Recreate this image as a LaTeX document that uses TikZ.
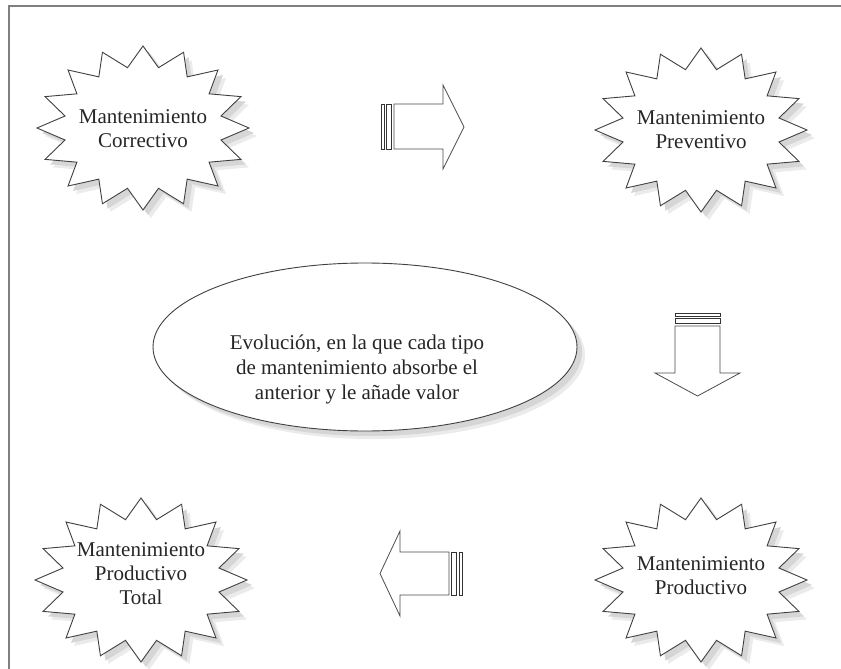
\documentclass[tikz,border=0pt]{standalone}
\usepackage{fontspec}
\setmainfont{Liberation Serif}
\newcommand\mystarshape[3][]{%
  \path[#1] ({#2+106},{#3})
    \foreach \k in {1,...,31}{ -- ({#2+106*(1-0.25*mod(\k,2))*cos(\k*11.25)},{#3+82*(1-0.25*mod(\k,2))*sin(\k*11.25)}) } -- cycle;}
\tikzset{
  starline/.style={draw=black!75, line width=0.9pt, fill=white, line join=miter},
  shadowfill/.style={fill=black!16, draw=none},
  shadowsoft/.style={fill=black!8, draw=none},
  lbl/.style={align=center, text=black!85, font=\fontsize{21}{24}\selectfont, inner sep=0pt},
  blockarrow/.style={draw=black!70, line width=0.8pt, fill=white, line join=miter},
  stripe/.style={draw=black!80, line width=1pt, fill=white},
  framestyle/.style={draw=black!50, line width=2pt}
}
\begin{document}
\begin{tikzpicture}[x=1pt,y=-1pt]
\useasboundingbox (0,0) rectangle (841,669);
\fill[white] (0,0) rectangle (841,669);
% frame (top and left)
\draw[framestyle] (841,6.5) -- (9,6.5) -- (9,669);
% stars: shadows then outlines
\foreach \cx/\cy in {143/128, 701/130, 141/580, 701/580}{
  \mystarshape[shadowsoft]{\cx+8}{\cy+8}
  \mystarshape[shadowfill]{\cx+5}{\cy+5}
  \mystarshape[starline]{\cx}{\cy}
}
\node[lbl] (corr) at (143,129) {Mantenimiento\\Correctivo};
\node[lbl] (prev) at (701,130) {Mantenimiento\\Preventivo};
\node[lbl] (prodt) at (141,574) {Mantenimiento\\Productivo\\Total};
\node[lbl] (prod) at (701,576) {Mantenimiento\\Productivo};
% ellipse
\fill[black!8] (373,355) ellipse [x radius=212, y radius=84];
\fill[black!16] (370,352) ellipse [x radius=212, y radius=84];
\draw[black!75, line width=0.9pt, fill=white] (365,347) ellipse [x radius=212, y radius=84];
\node[lbl, font=\fontsize{21}{25}\selectfont] (evo) at (357,369) {Evolución, en la que cada tipo\\de mantenimiento absorbe el\\anterior y le añade valor};
% right striped arrow
\draw[stripe] (381,104) rectangle (384,149);
\draw[stripe] (386.5,104) rectangle (391.5,149);
\draw[blockarrow] (394,104) -- (443,104) -- (443,85) -- (464,127) -- (443,169) -- (443,149) -- (394,149) -- cycle;
% down striped arrow
\draw[stripe] (675,313) rectangle (720,316);
\draw[stripe] (675,318.5) rectangle (720,323.5);
\draw[blockarrow] (675,326) -- (675,373) -- (655,373) -- (697.5,396) -- (740,373) -- (720,373) -- (720,326) -- cycle;
% left striped arrow
\draw[stripe] (462,552) rectangle (459,595);
\draw[stripe] (456.5,552) rectangle (451.5,595);
\draw[blockarrow] (449,552) -- (400,552) -- (400,531) -- (380,573.5) -- (400,616) -- (400,595) -- (449,595) -- cycle;
\end{tikzpicture}
\end{document}
